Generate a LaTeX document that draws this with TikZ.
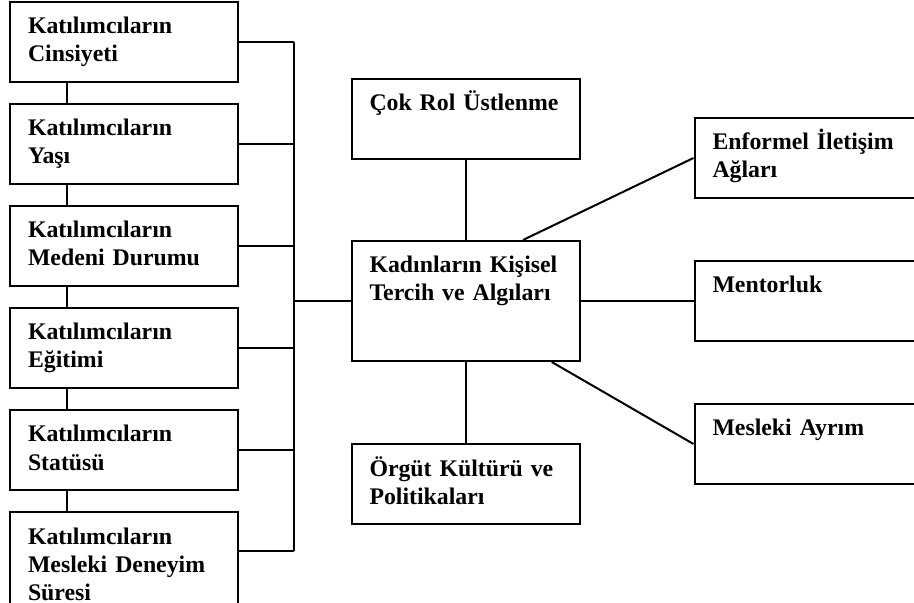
\documentclass[tikz,border=0pt]{standalone}
\usepackage{fontspec}
\setmainfont{Liberation Serif}
\usetikzlibrary{positioning,calc}

\begin{document}
\begin{tikzpicture}[x=1pt,y=1pt,line width=1pt,node distance=10pt,
  kutu/.style={draw,text width=96pt,align=left,inner xsep=9pt,inner ysep=0pt,
    text height=16pt,text depth=24pt,font=\fontsize{11.9}{14}\selectfont\bfseries},
  uzun/.style={kutu,text depth=34pt},
  merkez/.style={kutu,text depth=44pt}]
  \useasboundingbox (0,0) rectangle (457,-301.5);
  \node[kutu] (cins) at (62,-21) {Katılımcıların\\Cinsiyeti};
  \node[kutu] (yas) [below=of cins] {Katılımcıların\\Yaşı};
  \node[kutu] (medeni) [below=of yas] {Katılımcıların\\Medeni Durumu};
  \node[kutu] (egitim) [below=of medeni] {Katılımcıların\\Eğitimi};
  \node[kutu] (statu) [below=of egitim] {Katılımcıların\\Statüsü};
  \node[uzun] (deneyim) [below=of statu] {Katılımcıların\\Mesleki Deneyim\\Süresi};
  \coordinate (dik) at (33.5,0);
  \coordinate (bus) at (147,0);
  \node[merkez] (kisisel) at (232.75,-150.5) {Kadınların Kişisel\\Tercih ve Algıları};
  \node[kutu] (rol) [above=40pt of kisisel] {Çok Rol Üstlenme};
  \node[kutu] (orgut) [below=40.5pt of kisisel] {Örgüt Kültürü ve\\Politikaları};
  \node[kutu] (mentor) [right=56.5pt of kisisel] {Mentorluk};
  \node[kutu] (enformel) [above=30.5pt of mentor] {Enformel İletişim\\Ağları};
  \node[kutu] (ayrim) [below=30.5pt of mentor] {Mesleki Ayrım};
  \foreach \a/\b in {cins/yas,yas/medeni,medeni/egitim,egitim/statu,statu/deneyim}
    \draw (\a.south -| dik) -- (\b.north -| dik);
  \foreach \k in {cins,yas,medeni,egitim,statu}
    \draw (\k.east) -- (\k.east -| bus);
  \coordinate (d) at ($(deneyim.north east)+(0,-20)$);
  \draw (d) -- (d -| bus);
  \draw (cins.east -| bus) -- (d -| bus);
  \draw (kisisel.west -| bus) -- (kisisel.west);
  \draw (rol) -- (kisisel);
  \draw (kisisel) -- (orgut);
  \draw (kisisel) -- (mentor);
  \draw ($(kisisel.north west)!.75!(kisisel.north east)$) -- (enformel.west);
  \draw ($(kisisel.south west)!.875!(kisisel.south east)$) -- (ayrim.west);
\end{tikzpicture}
\end{document}
